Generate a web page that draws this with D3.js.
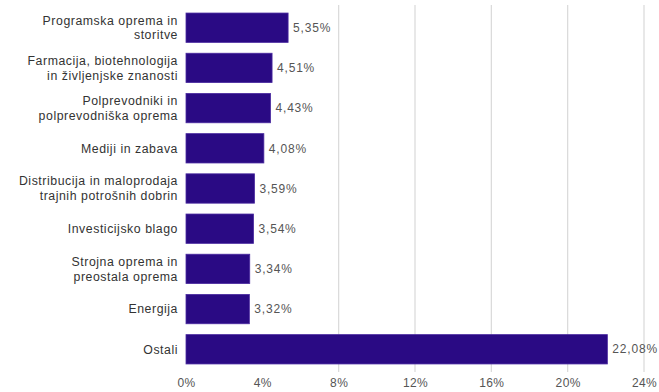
<!DOCTYPE html>
<html><head><meta charset="utf-8">
<script src="https://cdn.jsdelivr.net/npm/d3@7"></script>
<style>body{margin:0;background:#fff}svg text{font-family:"Liberation Sans",Arial,sans-serif}</style>
</head><body><svg id="c" width="659" height="392"></svg>
<script>
const categories = [
  ["Programska oprema in", "storitve"],
  ["Farmacija, biotehnologija", "in življenjske znanosti"],
  ["Polprevodniki in", "polprevodniška oprema"],
  ["Mediji in zabava"],
  ["Distribucija in maloprodaja", "trajnih potrošnih dobrin"],
  ["Investicijsko blago"],
  ["Strojna oprema in", "preostala oprema"],
  ["Energija"],
  ["Ostali"]
];
const values = [5.35, 4.51, 4.43, 4.08, 3.59, 3.54, 3.34, 3.32, 22.08];
const ticks = [0, 4, 8, 12, 16, 20, 24];
const gridTicks = [8, 12, 16, 20, 24];

const svg = d3.select("#c");
const x = d3.scaleLinear().domain([0, 24]).range([186, 644]);
const y = d3.scaleBand().domain(d3.range(values.length)).range([5, 372]).paddingInner(0.27).paddingOuter(0.2);

svg.append("g").selectAll("line").data(gridTicks).join("line")
  .attr("x1", d => x(d)).attr("x2", d => x(d))
  .attr("y1", 5).attr("y2", 372)
  .attr("stroke", "#d9d9d9").attr("stroke-width", 1.2);

svg.append("g").selectAll("rect").data(values).join("rect")
  .attr("x", x(0)).attr("y", (d, i) => y(i))
  .attr("width", d => x(d) - x(0)).attr("height", y.bandwidth())
  .attr("fill", "#2a0a84").attr("stroke", "#4a2aa0").attr("stroke-width", 0.8);

const fmt = v => v.toFixed(2).replace(".", ",") + "%";
svg.append("g").selectAll("text").data(values).join("text")
  .attr("x", d => x(d) + 5).attr("y", (d, i) => y(i) + y.bandwidth() / 2)
  .attr("dy", "0.35em").attr("font-size", 12).attr("letter-spacing", 0.8).attr("fill", "#555")
  .text(fmt);

const lab = svg.append("g").selectAll("text").data(categories).join("text")
  .attr("x", 178).attr("text-anchor", "end").attr("font-size", 12.3).attr("letter-spacing", 0.55).attr("fill", "#333")
  .attr("y", (d, i) => y(i) + y.bandwidth() / 2);
lab.each(function(d) {
  const t = d3.select(this);
  const n = d.length;
  d.forEach((line, k) => {
    t.append("tspan").attr("x", 178)
      .attr("dy", k === 0 ? (0.35 - (n - 1) * 0.6) + "em" : "1.2em")
      .text(line);
  });
});

const xAxis = d3.axisBottom(x).tickValues(ticks).tickSize(0).tickFormat(d => d + "%");
const ax = svg.append("g").attr("transform", "translate(0,375)").call(xAxis);
ax.select(".domain").remove();
ax.selectAll("text").attr("font-size", 12).attr("letter-spacing", 0.4).attr("fill", "#555").attr("font-family", "Liberation Sans, Arial, sans-serif");
</script></body></html>
